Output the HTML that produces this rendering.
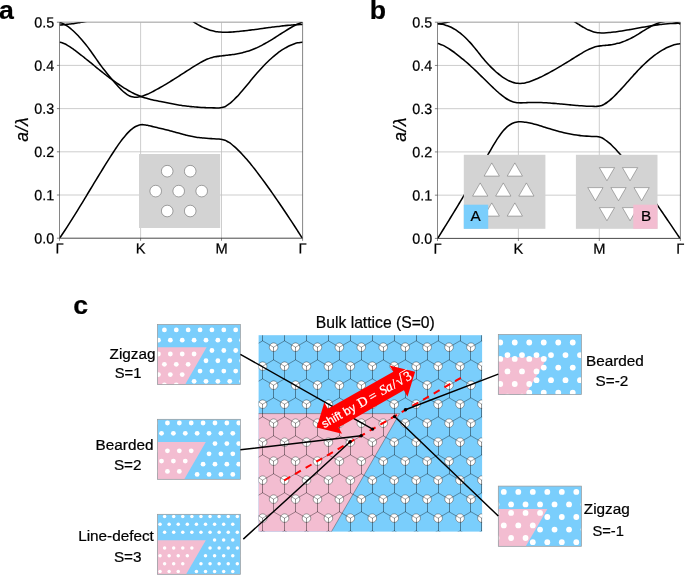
<!DOCTYPE html>
<html lang="en">
<head>
<meta charset="utf-8">
<title>Figure</title>
<style>
html,body{margin:0;padding:0;background:#fff;}
body{width:685px;height:575px;overflow:hidden;}
svg{display:block;}
text{stroke:#000;stroke-width:.22px;}
text.w{stroke:#fff;stroke-width:.25px;}
</style>
</head>
<body>
<svg width="685" height="575" viewBox="0 0 685 575" font-family='"Liberation Sans", sans-serif' font-size="13.33">
<rect width="685" height="575" fill="#fff"/>
<text x="-1" y="19" font-size="26.67" font-weight="bold">a</text>
<text x="369.7" y="19" font-size="26.67" font-weight="bold">b</text>
<clipPath id="clip1"><rect x="59.5" y="22.2" width="243.1" height="216"/></clipPath>
<path d="M59.5 22.2H302.6M59.5 65.4H302.6M59.5 108.6H302.6M59.5 151.8H302.6M59.5 195H302.6M140.6 22.2V238.2M221.5 22.2V238.2" stroke="#c0c0c0" stroke-width="0.8" fill="none"/>
<path d="M59.5 22.2H302.6" stroke="#b0b0b0" stroke-width="1" fill="none"/>
<g clip-path="url(#clip1)" fill="none" stroke="#000" stroke-width="1.55" stroke-linejoin="round">
<path d="M59.4 22.3C59.82 22.44 61.07 22.8 61.91 23.14C62.75 23.47 63.58 23.87 64.42 24.33C65.25 24.78 66.09 25.29 66.93 25.84C67.76 26.39 68.6 27 69.44 27.65C70.27 28.29 71.11 28.99 71.94 29.72C72.78 30.44 73.62 31.22 74.45 32.02C75.29 32.82 76.13 33.66 76.96 34.52C77.8 35.38 78.64 36.27 79.47 37.19C80.31 38.1 81.14 39.04 81.98 40.01C82.82 40.98 83.65 41.97 84.49 43C85.33 44.02 86.16 45.06 87 46.14C87.83 47.22 88.67 48.32 89.51 49.45C90.34 50.58 91.18 51.75 92.02 52.93C92.85 54.11 93.69 55.32 94.53 56.52C95.36 57.72 96.2 58.95 97.03 60.14C97.87 61.33 98.71 62.53 99.54 63.69C100.38 64.85 101.22 65.98 102.05 67.09C102.89 68.2 103.72 69.27 104.56 70.33C105.4 71.39 106.23 72.42 107.07 73.45C107.91 74.47 108.74 75.48 109.58 76.48C110.42 77.48 111.25 78.47 112.09 79.45C112.92 80.44 113.76 81.43 114.6 82.4C115.43 83.37 116.27 84.34 117.11 85.27C117.94 86.21 118.78 87.13 119.61 88C120.45 88.87 121.29 89.72 122.12 90.51C122.96 91.29 123.8 92.04 124.63 92.71C125.47 93.39 126.31 94.01 127.14 94.54C127.98 95.08 128.81 95.55 129.65 95.92C130.49 96.3 131.32 96.58 132.16 96.8C133 97.01 133.83 97.14 134.67 97.2C135.5 97.27 136.34 97.26 137.18 97.2C138.01 97.14 138.85 97.01 139.69 96.85C140.52 96.68 141.36 96.45 142.2 96.2C143.03 95.94 143.87 95.64 144.7 95.31C145.54 94.99 146.38 94.63 147.21 94.25C148.05 93.88 148.89 93.48 149.72 93.07C150.56 92.67 151.39 92.25 152.23 91.82C153.07 91.4 153.9 90.96 154.74 90.52C155.58 90.08 156.41 89.63 157.25 89.17C158.09 88.71 158.92 88.25 159.76 87.77C160.59 87.3 161.43 86.82 162.27 86.34C163.1 85.85 163.94 85.36 164.78 84.87C165.61 84.37 166.45 83.87 167.28 83.36C168.12 82.86 168.96 82.35 169.79 81.83C170.63 81.32 171.47 80.8 172.3 80.27C173.14 79.75 173.98 79.23 174.81 78.7C175.65 78.17 176.48 77.64 177.32 77.1C178.16 76.57 178.99 76.03 179.83 75.5C180.67 74.96 181.5 74.42 182.34 73.88C183.17 73.35 184.01 72.81 184.85 72.27C185.68 71.73 186.52 71.19 187.36 70.65C188.19 70.11 189.03 69.57 189.86 69.03C190.7 68.5 191.54 67.96 192.37 67.43C193.21 66.89 194.05 66.36 194.88 65.84C195.72 65.32 196.56 64.8 197.39 64.3C198.23 63.8 199.06 63.31 199.9 62.83C200.74 62.36 201.57 61.89 202.41 61.45C203.25 61.01 204.08 60.59 204.92 60.2C205.75 59.8 206.59 59.42 207.43 59.08C208.26 58.74 209.1 58.42 209.94 58.13C210.77 57.85 211.61 57.6 212.45 57.38C213.28 57.16 214.12 56.98 214.95 56.81C215.79 56.65 216.63 56.51 217.46 56.39C218.3 56.26 219.14 56.16 219.97 56.05C220.81 55.95 221.64 55.86 222.48 55.76C223.32 55.66 224.15 55.57 224.99 55.47C225.83 55.38 226.66 55.28 227.5 55.18C228.34 55.08 229.17 54.98 230.01 54.87C230.84 54.77 231.68 54.66 232.52 54.54C233.35 54.42 234.19 54.3 235.03 54.16C235.86 54.03 236.7 53.89 237.53 53.74C238.37 53.59 239.21 53.43 240.04 53.25C240.88 53.08 241.72 52.9 242.55 52.7C243.39 52.5 244.23 52.28 245.06 52.05C245.9 51.82 246.73 51.58 247.57 51.31C248.41 51.05 249.24 50.77 250.08 50.47C250.92 50.17 251.75 49.86 252.59 49.53C253.42 49.2 254.26 48.85 255.1 48.49C255.93 48.12 256.77 47.75 257.61 47.36C258.44 46.97 259.28 46.56 260.12 46.14C260.95 45.73 261.79 45.3 262.62 44.86C263.46 44.41 264.3 43.96 265.13 43.5C265.97 43.03 266.81 42.56 267.64 42.07C268.48 41.59 269.31 41.1 270.15 40.6C270.99 40.09 271.82 39.58 272.66 39.07C273.5 38.55 274.33 38.02 275.17 37.49C276.01 36.96 276.84 36.42 277.68 35.89C278.51 35.35 279.35 34.8 280.19 34.26C281.02 33.72 281.86 33.18 282.7 32.64C283.53 32.1 284.37 31.56 285.2 31.04C286.04 30.51 286.88 29.98 287.71 29.47C288.55 28.96 289.39 28.46 290.22 27.97C291.06 27.48 291.9 27 292.73 26.55C293.57 26.09 294.4 25.64 295.24 25.22C296.08 24.79 296.91 24.39 297.75 24.01C298.59 23.62 299.42 23.26 300.26 22.93C301.09 22.6 302.35 22.16 302.77 22.01"/>
<path d="M59.52 42.13C59.94 42.23 61.21 42.46 62.05 42.73C62.9 43 63.74 43.34 64.58 43.73C65.43 44.12 66.27 44.57 67.11 45.06C67.96 45.54 68.8 46.07 69.65 46.63C70.49 47.18 71.33 47.77 72.18 48.37C73.02 48.96 73.86 49.58 74.71 50.2C75.55 50.82 76.39 51.45 77.24 52.09C78.08 52.73 78.93 53.38 79.77 54.03C80.61 54.69 81.46 55.35 82.3 56.01C83.14 56.68 83.99 57.35 84.83 58.03C85.67 58.7 86.52 59.39 87.36 60.07C88.21 60.75 89.05 61.44 89.89 62.13C90.74 62.81 91.58 63.5 92.42 64.19C93.27 64.88 94.11 65.57 94.95 66.26C95.8 66.94 96.64 67.63 97.49 68.31C98.33 69 99.17 69.68 100.02 70.36C100.86 71.03 101.7 71.71 102.55 72.38C103.39 73.05 104.23 73.71 105.08 74.38C105.92 75.04 106.77 75.69 107.61 76.34C108.45 76.99 109.3 77.63 110.14 78.27C110.98 78.9 111.83 79.53 112.67 80.15C113.51 80.77 114.36 81.38 115.2 81.98C116.05 82.59 116.89 83.18 117.73 83.76C118.58 84.35 119.42 84.92 120.26 85.48C121.11 86.04 121.95 86.59 122.79 87.13C123.64 87.67 124.48 88.2 125.33 88.71C126.17 89.23 127.01 89.73 127.86 90.21C128.7 90.7 129.54 91.17 130.39 91.63C131.23 92.09 132.07 92.53 132.92 92.96C133.76 93.38 134.61 93.8 135.45 94.19C136.29 94.58 137.14 94.96 137.98 95.32C138.82 95.68 139.67 96.02 140.51 96.34C141.35 96.67 142.2 96.97 143.04 97.26C143.89 97.54 144.73 97.81 145.57 98.07C146.42 98.33 147.26 98.57 148.1 98.8C148.95 99.03 149.79 99.24 150.63 99.45C151.48 99.66 152.32 99.86 153.17 100.05C154.01 100.24 154.85 100.42 155.7 100.6C156.54 100.77 157.38 100.94 158.23 101.11C159.07 101.28 159.91 101.44 160.76 101.6C161.6 101.77 162.45 101.93 163.29 102.09C164.13 102.25 164.98 102.42 165.82 102.58C166.66 102.75 167.51 102.91 168.35 103.07C169.19 103.24 170.04 103.4 170.88 103.56C171.73 103.72 172.57 103.88 173.41 104.03C174.26 104.19 175.1 104.34 175.94 104.49C176.79 104.64 177.63 104.78 178.47 104.92C179.32 105.06 180.16 105.2 181.01 105.33C181.85 105.45 182.69 105.58 183.54 105.69C184.38 105.81 185.22 105.92 186.07 106.03C186.91 106.14 187.75 106.24 188.6 106.33C189.44 106.43 190.29 106.52 191.13 106.61C191.97 106.69 192.82 106.77 193.66 106.85C194.5 106.93 195.35 107 196.19 107.07C197.03 107.13 197.88 107.2 198.72 107.25C199.57 107.31 200.41 107.37 201.25 107.42C202.1 107.47 202.94 107.51 203.78 107.55C204.63 107.6 205.47 107.63 206.31 107.67C207.16 107.7 208 107.73 208.85 107.76C209.69 107.79 210.53 107.81 211.38 107.83C212.22 107.85 213.06 107.87 213.91 107.88C214.75 107.9 215.59 107.91 216.44 107.91C217.28 107.92 217.7 108.07 218.97 107.93C220.24 107.78 222.77 107.4 224.04 107.03C225.31 106.65 225.73 106.18 226.58 105.67C227.43 105.15 228.27 104.55 229.12 103.91C229.97 103.27 230.81 102.56 231.66 101.82C232.5 101.08 233.35 100.29 234.2 99.48C235.04 98.66 235.89 97.8 236.74 96.91C237.58 96.02 238.43 95.1 239.28 94.16C240.12 93.23 240.97 92.26 241.82 91.28C242.66 90.3 243.51 89.29 244.36 88.28C245.2 87.28 246.05 86.25 246.9 85.22C247.74 84.2 248.59 83.16 249.44 82.14C250.28 81.11 251.13 80.07 251.98 79.06C252.82 78.04 253.67 77.02 254.51 76.02C255.36 75.02 256.21 74.04 257.05 73.07C257.9 72.1 258.75 71.14 259.59 70.2C260.44 69.27 261.29 68.34 262.13 67.44C262.98 66.54 263.83 65.65 264.67 64.78C265.52 63.91 266.37 63.06 267.21 62.23C268.06 61.41 268.91 60.6 269.75 59.81C270.6 59.02 271.45 58.25 272.29 57.5C273.14 56.76 273.99 56.03 274.83 55.33C275.68 54.63 276.52 53.96 277.37 53.3C278.22 52.65 279.06 52.02 279.91 51.42C280.76 50.82 281.6 50.24 282.45 49.69C283.3 49.14 284.14 48.61 284.99 48.11C285.84 47.62 286.68 47.15 287.53 46.71C288.38 46.27 289.22 45.85 290.07 45.47C290.92 45.09 291.76 44.74 292.61 44.42C293.46 44.1 294.3 43.81 295.15 43.55C296 43.29 296.84 43.07 297.69 42.87C298.53 42.68 299.38 42.52 300.23 42.4C301.07 42.28 302.34 42.18 302.77 42.13"/>
<path d="M59.75 238C60.18 237.38 61.44 235.53 62.28 234.27C63.12 233.02 63.97 231.75 64.81 230.47C65.65 229.19 66.49 227.9 67.34 226.59C68.18 225.29 69.02 223.98 69.86 222.66C70.71 221.34 71.55 220 72.39 218.66C73.23 217.33 74.08 215.98 74.92 214.62C75.76 213.27 76.6 211.91 77.44 210.54C78.29 209.18 79.13 207.8 79.97 206.43C80.81 205.05 81.66 203.67 82.5 202.28C83.34 200.9 84.18 199.51 85.03 198.12C85.87 196.73 86.71 195.33 87.55 193.94C88.4 192.55 89.24 191.15 90.08 189.76C90.92 188.36 91.77 186.97 92.61 185.58C93.45 184.18 94.29 182.79 95.14 181.4C95.98 180.01 96.82 178.63 97.66 177.24C98.51 175.86 99.35 174.48 100.19 173.11C101.03 171.74 101.88 170.36 102.72 169C103.56 167.64 104.4 166.28 105.25 164.93C106.09 163.58 106.93 162.24 107.77 160.9C108.61 159.57 109.46 158.24 110.3 156.93C111.14 155.61 111.98 154.3 112.83 153.01C113.67 151.72 114.51 150.43 115.35 149.16C116.2 147.9 117.04 146.64 117.88 145.43C118.72 144.21 119.57 143.01 120.41 141.85C121.25 140.69 122.09 139.56 122.94 138.49C123.78 137.41 124.62 136.36 125.46 135.38C126.31 134.4 127.15 133.46 127.99 132.59C128.83 131.71 129.68 130.89 130.52 130.15C131.36 129.41 132.2 128.72 133.05 128.12C133.89 127.52 134.73 126.98 135.57 126.53C136.41 126.08 137.26 125.7 138.1 125.41C138.94 125.12 139.78 124.91 140.63 124.78C141.47 124.66 142.31 124.63 143.15 124.66C144 124.68 144.84 124.79 145.68 124.92C146.52 125.05 147.37 125.25 148.21 125.43C149.05 125.62 149.89 125.85 150.74 126.06C151.58 126.27 152.42 126.48 153.26 126.69C154.11 126.89 154.95 127.1 155.79 127.3C156.63 127.5 157.48 127.7 158.32 127.9C159.16 128.1 160 128.3 160.85 128.5C161.69 128.7 162.53 128.9 163.37 129.11C164.21 129.31 165.06 129.51 165.9 129.72C166.74 129.93 167.58 130.14 168.43 130.35C169.27 130.57 170.11 130.79 170.95 131.01C171.8 131.23 172.64 131.46 173.48 131.69C174.32 131.92 175.17 132.16 176.01 132.39C176.85 132.63 177.69 132.87 178.54 133.11C179.38 133.34 180.22 133.58 181.06 133.82C181.91 134.05 182.75 134.28 183.59 134.51C184.43 134.73 185.28 134.95 186.12 135.17C186.96 135.38 187.8 135.58 188.65 135.78C189.49 135.97 190.33 136.16 191.17 136.33C192.02 136.5 192.86 136.67 193.7 136.81C194.54 136.96 195.38 137.1 196.23 137.22C197.07 137.35 197.91 137.46 198.75 137.57C199.6 137.67 200.44 137.77 201.28 137.85C202.12 137.94 202.97 138.02 203.81 138.1C204.65 138.17 205.49 138.24 206.34 138.3C207.18 138.36 208.02 138.42 208.86 138.47C209.71 138.53 210.55 138.58 211.39 138.63C212.23 138.68 213.08 138.73 213.92 138.78C214.76 138.82 215.6 138.87 216.45 138.92C217.29 138.97 217.71 138.91 218.97 139.07C220.24 139.23 222.76 139.56 224.02 139.88C225.28 140.19 225.7 140.54 226.55 140.97C227.39 141.4 228.23 141.9 229.07 142.45C229.91 143 230.75 143.61 231.59 144.26C232.43 144.91 233.27 145.62 234.11 146.34C234.96 147.07 235.8 147.84 236.64 148.64C237.48 149.43 238.32 150.25 239.16 151.09C240 151.94 240.84 152.81 241.68 153.7C242.52 154.6 243.36 155.51 244.21 156.45C245.05 157.39 245.89 158.35 246.73 159.33C247.57 160.3 248.41 161.3 249.25 162.32C250.09 163.33 250.93 164.37 251.77 165.41C252.61 166.46 253.46 167.52 254.3 168.6C255.14 169.68 255.98 170.77 256.82 171.87C257.66 172.97 258.5 174.09 259.34 175.21C260.18 176.33 261.02 177.46 261.87 178.6C262.71 179.74 263.55 180.89 264.39 182.05C265.23 183.2 266.07 184.36 266.91 185.53C267.75 186.7 268.59 187.87 269.43 189.05C270.27 190.23 271.12 191.42 271.96 192.61C272.8 193.81 273.64 195.01 274.48 196.21C275.32 197.42 276.16 198.63 277 199.85C277.84 201.07 278.68 202.3 279.52 203.53C280.37 204.76 281.21 205.99 282.05 207.24C282.89 208.48 283.73 209.73 284.57 210.98C285.41 212.23 286.25 213.49 287.09 214.76C287.93 216.02 288.78 217.29 289.62 218.57C290.46 219.85 291.3 221.13 292.14 222.41C292.98 223.7 293.82 224.99 294.66 226.29C295.5 227.59 296.34 228.89 297.18 230.19C298.03 231.5 298.87 232.81 299.71 234.13C300.55 235.44 301.81 237.43 302.23 238.09"/>
<path d="M59.5 25.1C59.92 25.06 61.17 24.96 62 24.89C62.83 24.81 63.67 24.73 64.5 24.64C65.33 24.56 66.17 24.47 67 24.37C67.83 24.28 68.67 24.18 69.5 24.08C70.33 23.97 71.17 23.87 72 23.75C72.83 23.64 73.67 23.53 74.5 23.4C75.33 23.28 76.17 23.16 77 23.03C77.83 22.9 78.67 22.77 79.5 22.63C80.33 22.5 81.17 22.35 82 22.21C82.83 22.07 83.67 21.92 84.5 21.77C85.33 21.61 86.58 21.38 87 21.3"/>
<path d="M192.43 21.1C192.85 21.38 194.11 22.24 194.94 22.79C195.78 23.33 196.61 23.85 197.45 24.35C198.29 24.85 199.12 25.33 199.96 25.79C200.79 26.25 201.63 26.69 202.47 27.1C203.3 27.51 204.14 27.9 204.97 28.27C205.81 28.63 206.64 28.98 207.48 29.29C208.32 29.6 209.15 29.89 209.99 30.16C210.82 30.42 211.66 30.65 212.5 30.86C213.33 31.07 214.17 31.24 215 31.4C215.84 31.56 216.67 31.69 217.51 31.79C218.35 31.9 219.18 31.99 220.02 32.06C220.85 32.13 221.69 32.17 222.53 32.2C223.36 32.24 224.2 32.25 225.03 32.25C225.87 32.25 226.7 32.24 227.54 32.21C228.38 32.19 229.21 32.15 230.05 32.11C230.88 32.07 231.72 32.01 232.56 31.95C233.39 31.89 234.23 31.83 235.06 31.76C235.9 31.69 236.74 31.62 237.57 31.54C238.41 31.46 239.24 31.38 240.08 31.29C240.91 31.21 241.75 31.12 242.59 31.03C243.42 30.94 244.26 30.85 245.09 30.75C245.93 30.65 246.77 30.55 247.6 30.45C248.44 30.35 249.27 30.25 250.11 30.14C250.94 30.03 251.78 29.93 252.62 29.82C253.45 29.71 254.29 29.6 255.12 29.49C255.96 29.37 256.8 29.26 257.63 29.15C258.47 29.03 259.3 28.92 260.14 28.8C260.97 28.69 261.81 28.57 262.65 28.46C263.48 28.34 264.32 28.23 265.15 28.11C265.99 28 266.83 27.88 267.66 27.77C268.5 27.65 269.33 27.54 270.17 27.43C271.01 27.32 271.84 27.21 272.68 27.1C273.51 26.99 274.35 26.88 275.18 26.78C276.02 26.67 276.86 26.57 277.69 26.47C278.53 26.36 279.36 26.26 280.2 26.17C281.04 26.07 281.87 25.98 282.71 25.89C283.54 25.8 284.38 25.71 285.21 25.62C286.05 25.54 286.89 25.46 287.72 25.38C288.56 25.31 289.39 25.23 290.23 25.16C291.07 25.1 291.9 25.03 292.74 24.97C293.57 24.91 294.41 24.86 295.24 24.8C296.08 24.75 296.92 24.71 297.75 24.67C298.59 24.63 299.42 24.59 300.26 24.57C301.1 24.54 302.35 24.51 302.77 24.5"/>
</g>
<path d="M59.5 22.2V238.2M302.6 238.2V22.2M59.5 22.2h-2.6M59.5 65.4h-2.6M59.5 108.6h-2.6M59.5 151.8h-2.6M59.5 195h-2.6M59.5 238.2h-2.6M59.5 238.2v2.6M140.6 238.2v2.6M221.5 238.2v2.6M302.6 238.2v2.6" stroke="#444" stroke-width="0.65" fill="none"/>
<path d="M59.2 238.2H302.9" stroke="#333" stroke-width="0.9" fill="none"/>
<text transform="translate(54.1 27.5) rotate(0.2) scale(1 1.03)" font-size="14.3" text-anchor="end">0.5</text>
<text transform="translate(54.1 70.7) rotate(0.2) scale(1 1.03)" font-size="14.3" text-anchor="end">0.4</text>
<text transform="translate(54.1 113.9) rotate(0.2) scale(1 1.03)" font-size="14.3" text-anchor="end">0.3</text>
<text transform="translate(54.1 157.1) rotate(0.2) scale(1 1.03)" font-size="14.3" text-anchor="end">0.2</text>
<text transform="translate(54.1 200.3) rotate(0.2) scale(1 1.03)" font-size="14.3" text-anchor="end">0.1</text>
<text transform="translate(54.1 243.5) rotate(0.2) scale(1 1.03)" font-size="14.3" text-anchor="end">0.0</text>
<text transform="translate(59.5 253.5) rotate(0.2)" font-size="14.67" text-anchor="middle">Γ</text>
<text transform="translate(140.6 253.5) rotate(0.2)" font-size="14.67" text-anchor="middle">K</text>
<text transform="translate(221.5 253.5) rotate(0.2)" font-size="14.67" text-anchor="middle">M</text>
<text transform="translate(302.6 253.5) rotate(0.2)" font-size="14.67" text-anchor="middle">Γ</text>
<text transform="translate(28.3 129.3) rotate(-90)" font-size="17.5" letter-spacing="0.55" text-anchor="middle" font-style="italic">a/λ</text>
<rect x="139" y="154" width="81.2" height="74" fill="#d3d3d3"/>
<g fill="#fff" stroke="#555" stroke-width="0.5">
<circle cx="178.7" cy="191.1" r="5.8"/>
<circle cx="155.7" cy="191.1" r="5.8"/>
<circle cx="201.7" cy="191.1" r="5.8"/>
<circle cx="167.2" cy="171.18" r="5.8"/>
<circle cx="190.2" cy="171.18" r="5.8"/>
<circle cx="167.2" cy="211.02" r="5.8"/>
<circle cx="190.2" cy="211.02" r="5.8"/>
</g>
<clipPath id="clip2"><rect x="437.5" y="22.2" width="242.9" height="216.2"/></clipPath>
<path d="M437.5 22.2H680.4M437.5 65.44H680.4M437.5 108.68H680.4M437.5 151.92H680.4M437.5 195.16H680.4M518.4 22.2V238.4M599.3 22.2V238.4" stroke="#c0c0c0" stroke-width="0.8" fill="none"/>
<path d="M437.5 22.2H680.4" stroke="#b0b0b0" stroke-width="1" fill="none"/>
<g clip-path="url(#clip2)" fill="none" stroke="#000" stroke-width="1.55" stroke-linejoin="round">
<path d="M437.4 23.8C437.82 23.82 439.07 23.85 439.91 23.93C440.74 24.02 441.58 24.14 442.41 24.3C443.25 24.46 444.08 24.65 444.92 24.88C445.75 25.12 446.59 25.39 447.42 25.69C448.26 26 449.09 26.34 449.93 26.72C450.77 27.1 451.6 27.51 452.44 27.96C453.27 28.41 454.11 28.9 454.94 29.42C455.78 29.94 456.61 30.49 457.45 31.08C458.28 31.67 459.12 32.29 459.95 32.94C460.79 33.6 461.62 34.29 462.46 35.01C463.3 35.73 464.13 36.49 464.97 37.28C465.8 38.06 466.64 38.88 467.47 39.73C468.31 40.58 469.14 41.47 469.98 42.38C470.81 43.3 471.65 44.24 472.48 45.22C473.32 46.19 474.15 47.21 474.99 48.24C475.83 49.26 476.66 50.33 477.5 51.39C478.33 52.44 479.17 53.52 480 54.57C480.84 55.62 481.67 56.67 482.51 57.68C483.34 58.69 484.18 59.68 485.01 60.65C485.85 61.61 486.68 62.55 487.52 63.47C488.36 64.38 489.19 65.27 490.03 66.13C490.86 67 491.7 67.84 492.53 68.65C493.37 69.46 494.2 70.25 495.04 71.01C495.87 71.76 496.71 72.5 497.54 73.2C498.38 73.9 499.21 74.58 500.05 75.22C500.88 75.86 501.72 76.47 502.56 77.05C503.39 77.63 504.23 78.18 505.06 78.69C505.9 79.2 506.73 79.67 507.57 80.11C508.4 80.55 509.24 80.95 510.07 81.3C510.91 81.66 511.74 81.98 512.58 82.25C513.41 82.53 514.25 82.76 515.09 82.94C515.92 83.12 516.76 83.26 517.59 83.35C518.43 83.44 519.26 83.47 520.1 83.46C520.93 83.46 521.77 83.4 522.6 83.31C523.44 83.21 524.27 83.07 525.11 82.91C525.94 82.74 526.78 82.53 527.62 82.3C528.45 82.07 529.29 81.8 530.12 81.52C530.96 81.23 531.79 80.92 532.63 80.59C533.46 80.27 534.3 79.92 535.13 79.56C535.97 79.21 536.8 78.84 537.64 78.46C538.47 78.08 539.31 77.69 540.15 77.29C540.98 76.9 541.82 76.49 542.65 76.08C543.49 75.66 544.32 75.24 545.16 74.81C545.99 74.38 546.83 73.94 547.66 73.5C548.5 73.05 549.33 72.6 550.17 72.15C551 71.69 551.84 71.22 552.68 70.75C553.51 70.29 554.35 69.81 555.18 69.33C556.02 68.85 556.85 68.36 557.69 67.88C558.52 67.39 559.36 66.89 560.19 66.4C561.03 65.9 561.86 65.4 562.7 64.89C563.53 64.39 564.37 63.88 565.21 63.37C566.04 62.87 566.88 62.35 567.71 61.84C568.55 61.33 569.38 60.81 570.22 60.3C571.05 59.78 571.89 59.27 572.72 58.75C573.56 58.23 574.39 57.71 575.23 57.2C576.06 56.68 576.9 56.16 577.74 55.65C578.57 55.13 579.41 54.62 580.24 54.11C581.08 53.6 581.91 53.1 582.75 52.61C583.58 52.13 584.42 51.64 585.25 51.19C586.09 50.73 586.92 50.28 587.76 49.87C588.59 49.45 589.43 49.05 590.27 48.68C591.1 48.31 591.94 47.97 592.77 47.67C593.61 47.36 594.44 47.09 595.28 46.85C596.11 46.62 596.95 46.43 597.78 46.26C598.62 46.1 599.45 45.98 600.29 45.86C601.12 45.75 601.96 45.67 602.79 45.58C603.63 45.5 604.47 45.44 605.3 45.37C606.14 45.29 606.97 45.23 607.81 45.15C608.64 45.06 609.48 44.97 610.31 44.86C611.15 44.74 611.98 44.61 612.82 44.47C613.65 44.32 614.49 44.15 615.32 43.97C616.16 43.79 617 43.58 617.83 43.36C618.67 43.14 619.5 42.9 620.34 42.64C621.17 42.38 622.01 42.11 622.84 41.81C623.68 41.51 624.51 41.19 625.35 40.86C626.18 40.52 627.02 40.16 627.85 39.79C628.69 39.41 629.53 39.01 630.36 38.59C631.2 38.17 632.03 37.73 632.87 37.28C633.7 36.82 634.54 36.34 635.37 35.85C636.21 35.36 637.04 34.85 637.88 34.34C638.71 33.82 639.55 33.3 640.38 32.78C641.22 32.25 642.06 31.72 642.89 31.2C643.73 30.68 644.56 30.15 645.4 29.64C646.23 29.13 647.07 28.62 647.9 28.13C648.74 27.64 649.57 27.15 650.41 26.7C651.24 26.24 652.08 25.79 652.91 25.38C653.75 24.96 654.59 24.56 655.42 24.2C656.26 23.83 657.09 23.49 657.93 23.17C658.76 22.86 659.6 22.58 660.43 22.33C661.27 22.08 662.1 21.86 662.94 21.68C663.77 21.5 664.61 21.35 665.44 21.24C666.28 21.13 667.12 21.06 667.95 21.03C668.79 21 669.62 21.01 670.46 21.07C671.29 21.12 672.13 21.22 672.96 21.37C673.8 21.52 674.63 21.71 675.47 21.95C676.3 22.2 677.14 22.49 677.97 22.84C678.81 23.19 680.06 23.84 680.48 24.04"/>
<path d="M437.46 43.49C437.88 43.6 439.15 43.88 439.99 44.16C440.83 44.43 441.68 44.76 442.52 45.14C443.36 45.51 444.2 45.93 445.05 46.38C445.89 46.83 446.73 47.33 447.58 47.85C448.42 48.37 449.26 48.92 450.1 49.49C450.95 50.05 451.79 50.65 452.63 51.25C453.48 51.85 454.32 52.47 455.16 53.1C456.01 53.73 456.85 54.37 457.69 55.03C458.53 55.68 459.38 56.35 460.22 57.03C461.06 57.71 461.91 58.4 462.75 59.1C463.59 59.8 464.43 60.52 465.28 61.24C466.12 61.96 466.96 62.7 467.81 63.44C468.65 64.19 469.49 64.95 470.33 65.71C471.18 66.48 472.02 67.25 472.86 68.04C473.71 68.82 474.55 69.62 475.39 70.42C476.23 71.23 477.08 72.04 477.92 72.86C478.76 73.67 479.61 74.5 480.45 75.33C481.29 76.16 482.14 76.99 482.98 77.82C483.82 78.65 484.66 79.48 485.51 80.31C486.35 81.14 487.19 81.97 488.04 82.8C488.88 83.62 489.72 84.44 490.56 85.25C491.41 86.06 492.25 86.86 493.09 87.65C493.94 88.44 494.78 89.23 495.62 89.99C496.46 90.76 497.31 91.52 498.15 92.25C498.99 92.99 499.84 93.72 500.68 94.41C501.52 95.11 502.37 95.78 503.21 96.42C504.05 97.06 504.89 97.67 505.74 98.23C506.58 98.79 507.42 99.32 508.27 99.79C509.11 100.26 509.95 100.69 510.79 101.05C511.64 101.41 512.48 101.72 513.32 101.96C514.17 102.21 515.01 102.38 515.85 102.52C516.69 102.66 517.54 102.74 518.38 102.8C519.22 102.86 520.07 102.86 520.91 102.86C521.75 102.86 522.6 102.83 523.44 102.79C524.28 102.76 525.12 102.7 525.97 102.66C526.81 102.62 527.65 102.57 528.5 102.54C529.34 102.5 530.18 102.48 531.02 102.46C531.87 102.44 532.71 102.43 533.55 102.43C534.4 102.42 535.24 102.42 536.08 102.43C536.92 102.44 537.77 102.46 538.61 102.48C539.45 102.5 540.3 102.53 541.14 102.56C541.98 102.59 542.82 102.63 543.67 102.67C544.51 102.71 545.35 102.76 546.2 102.81C547.04 102.86 547.88 102.91 548.73 102.97C549.57 103.03 550.41 103.09 551.25 103.15C552.1 103.22 552.94 103.29 553.78 103.36C554.63 103.43 555.47 103.5 556.31 103.57C557.15 103.65 558 103.73 558.84 103.8C559.68 103.88 560.53 103.96 561.37 104.04C562.21 104.12 563.05 104.2 563.9 104.28C564.74 104.37 565.58 104.45 566.43 104.53C567.27 104.61 568.11 104.69 568.96 104.77C569.8 104.85 570.64 104.93 571.48 105.01C572.33 105.09 573.17 105.17 574.01 105.24C574.86 105.31 575.7 105.39 576.54 105.46C577.38 105.53 578.23 105.6 579.07 105.66C579.91 105.73 580.76 105.79 581.6 105.85C582.44 105.9 583.28 105.96 584.13 106.01C584.97 106.06 585.81 106.1 586.66 106.15C587.5 106.19 588.34 106.22 589.19 106.26C590.03 106.29 590.87 106.31 591.71 106.33C592.56 106.35 593.4 106.37 594.24 106.37C595.09 106.38 595.51 106.53 596.77 106.38C598.04 106.22 600.57 105.81 601.84 105.44C603.1 105.07 603.53 104.63 604.37 104.14C605.22 103.65 606.07 103.1 606.91 102.5C607.76 101.9 608.6 101.24 609.45 100.55C610.29 99.86 611.14 99.12 611.98 98.35C612.83 97.59 613.68 96.78 614.52 95.95C615.37 95.12 616.21 94.26 617.06 93.39C617.9 92.51 618.75 91.62 619.6 90.71C620.44 89.81 621.29 88.89 622.13 87.97C622.98 87.04 623.82 86.1 624.67 85.16C625.51 84.22 626.36 83.28 627.21 82.33C628.05 81.38 628.9 80.43 629.74 79.49C630.59 78.54 631.43 77.59 632.28 76.66C633.13 75.72 633.97 74.78 634.82 73.86C635.66 72.94 636.51 72.02 637.35 71.12C638.2 70.22 639.04 69.33 639.89 68.46C640.74 67.58 641.58 66.73 642.43 65.89C643.27 65.06 644.12 64.24 644.96 63.44C645.81 62.64 646.66 61.86 647.5 61.1C648.35 60.35 649.19 59.61 650.04 58.89C650.88 58.18 651.73 57.48 652.57 56.81C653.42 56.13 654.27 55.48 655.11 54.85C655.96 54.22 656.8 53.62 657.65 53.04C658.49 52.45 659.34 51.9 660.19 51.36C661.03 50.83 661.88 50.32 662.72 49.84C663.57 49.35 664.41 48.89 665.26 48.46C666.1 48.03 666.95 47.63 667.8 47.25C668.64 46.87 669.49 46.52 670.33 46.19C671.18 45.87 672.02 45.58 672.87 45.31C673.72 45.04 674.56 44.81 675.41 44.6C676.25 44.39 677.1 44.21 677.94 44.06C678.79 43.92 680.06 43.77 680.48 43.71"/>
<path d="M437.53 238.58C437.95 237.91 439.22 235.9 440.06 234.56C440.9 233.21 441.74 231.86 442.59 230.51C443.43 229.16 444.27 227.8 445.11 226.45C445.96 225.09 446.8 223.72 447.64 222.36C448.48 220.99 449.33 219.62 450.17 218.25C451.01 216.88 451.85 215.5 452.7 214.12C453.54 212.75 454.38 211.36 455.22 209.98C456.07 208.59 456.91 207.2 457.75 205.81C458.59 204.42 459.44 203.02 460.28 201.62C461.12 200.23 461.96 198.82 462.81 197.42C463.65 196.01 464.49 194.61 465.34 193.2C466.18 191.79 467.02 190.37 467.86 188.95C468.71 187.54 469.55 186.12 470.39 184.7C471.23 183.27 472.08 181.85 472.92 180.42C473.76 178.99 474.6 177.56 475.45 176.12C476.29 174.69 477.13 173.25 477.97 171.81C478.82 170.37 479.66 168.93 480.5 167.49C481.34 166.04 482.19 164.59 483.03 163.14C483.87 161.69 484.71 160.24 485.56 158.78C486.4 157.33 487.24 155.87 488.08 154.41C488.93 152.95 489.77 151.48 490.61 150.03C491.45 148.58 492.3 147.13 493.14 145.72C493.98 144.31 494.82 142.91 495.67 141.56C496.51 140.21 497.35 138.89 498.19 137.63C499.04 136.37 499.88 135.16 500.72 134.02C501.56 132.89 502.41 131.8 503.25 130.82C504.09 129.83 504.93 128.92 505.78 128.1C506.62 127.28 507.46 126.56 508.3 125.92C509.15 125.27 509.99 124.72 510.83 124.24C511.68 123.75 512.52 123.35 513.36 123.02C514.2 122.69 515.05 122.43 515.89 122.23C516.73 122.03 517.57 121.9 518.42 121.82C519.26 121.74 520.1 121.72 520.94 121.74C521.79 121.75 522.63 121.82 523.47 121.9C524.31 121.99 525.16 122.11 526 122.24C526.84 122.37 527.68 122.52 528.53 122.69C529.37 122.86 530.21 123.04 531.05 123.24C531.9 123.44 532.74 123.65 533.58 123.88C534.42 124.1 535.27 124.34 536.11 124.58C536.95 124.82 537.79 125.07 538.64 125.32C539.48 125.58 540.32 125.84 541.16 126.1C542.01 126.36 542.85 126.63 543.69 126.89C544.53 127.15 545.38 127.42 546.22 127.68C547.06 127.94 547.9 128.2 548.75 128.46C549.59 128.72 550.43 128.98 551.27 129.24C552.12 129.49 552.96 129.74 553.8 129.99C554.65 130.23 555.49 130.48 556.33 130.71C557.17 130.95 558.02 131.18 558.86 131.4C559.7 131.63 560.54 131.84 561.39 132.05C562.23 132.26 563.07 132.46 563.91 132.66C564.76 132.85 565.6 133.04 566.44 133.22C567.28 133.4 568.13 133.57 568.97 133.73C569.81 133.9 570.65 134.06 571.5 134.21C572.34 134.36 573.18 134.5 574.02 134.64C574.87 134.77 575.71 134.9 576.55 135.02C577.39 135.14 578.24 135.26 579.08 135.36C579.92 135.47 580.76 135.57 581.61 135.66C582.45 135.76 583.29 135.84 584.13 135.92C584.98 136 585.82 136.07 586.66 136.13C587.5 136.2 588.35 136.25 589.19 136.3C590.03 136.35 590.87 136.4 591.72 136.43C592.56 136.47 593.4 136.49 594.24 136.52C595.09 136.54 595.51 136.35 596.77 136.56C598.04 136.77 600.56 137.31 601.83 137.77C603.09 138.22 603.51 138.73 604.35 139.29C605.19 139.84 606.04 140.44 606.88 141.09C607.72 141.73 608.56 142.42 609.4 143.15C610.25 143.88 611.09 144.65 611.93 145.45C612.77 146.25 613.61 147.09 614.46 147.96C615.3 148.83 616.14 149.73 616.98 150.66C617.82 151.59 618.67 152.55 619.51 153.53C620.35 154.51 621.19 155.52 622.03 156.55C622.88 157.57 623.72 158.62 624.56 159.68C625.4 160.74 626.25 161.83 627.09 162.92C627.93 164.01 628.77 165.11 629.61 166.22C630.46 167.34 631.3 168.46 632.14 169.58C632.98 170.71 633.82 171.85 634.67 172.99C635.51 174.13 636.35 175.28 637.19 176.43C638.03 177.59 638.88 178.75 639.72 179.92C640.56 181.08 641.4 182.26 642.24 183.43C643.09 184.61 643.93 185.8 644.77 186.98C645.61 188.17 646.45 189.37 647.3 190.56C648.14 191.76 648.98 192.97 649.82 194.17C650.66 195.38 651.51 196.59 652.35 197.8C653.19 199.02 654.03 200.24 654.87 201.46C655.72 202.68 656.56 203.9 657.4 205.13C658.24 206.36 659.08 207.59 659.93 208.82C660.77 210.05 661.61 211.28 662.45 212.52C663.29 213.76 664.14 214.99 664.98 216.23C665.82 217.47 666.66 218.71 667.5 219.95C668.35 221.19 669.19 222.44 670.03 223.68C670.87 224.92 671.71 226.16 672.56 227.41C673.4 228.65 674.24 229.89 675.08 231.13C675.92 232.38 676.77 233.62 677.61 234.86C678.45 236.1 679.71 237.96 680.14 238.58"/>
<path d="M437.4 23.8C437.82 23.76 439.08 23.64 439.92 23.54C440.76 23.43 441.6 23.31 442.44 23.18C443.28 23.04 444.12 22.89 444.96 22.73C445.8 22.56 446.64 22.39 447.48 22.2C448.32 22.01 449.58 21.7 450 21.6"/>
<path d="M570.83 19.52C571.25 19.77 572.53 20.49 573.38 21C574.23 21.51 575.08 22.05 575.93 22.59C576.78 23.12 577.63 23.68 578.48 24.22C579.33 24.76 580.18 25.31 581.03 25.84C581.88 26.36 582.73 26.89 583.58 27.39C584.43 27.88 585.28 28.36 586.13 28.81C586.98 29.25 587.83 29.67 588.68 30.05C589.53 30.43 590.38 30.79 591.23 31.09C592.08 31.4 592.93 31.66 593.78 31.89C594.63 32.11 595.48 32.29 596.33 32.44C597.18 32.59 598.03 32.7 598.88 32.78C599.73 32.86 600.58 32.91 601.43 32.94C602.28 32.96 603.13 32.96 603.98 32.94C604.83 32.92 605.68 32.87 606.53 32.82C607.38 32.76 608.23 32.69 609.08 32.6C609.93 32.52 610.78 32.43 611.63 32.33C612.48 32.23 613.33 32.12 614.18 32.01C615.03 31.91 615.88 31.79 616.73 31.67C617.58 31.55 618.43 31.43 619.28 31.3C620.13 31.17 620.98 31.04 621.83 30.91C622.68 30.77 623.53 30.63 624.38 30.49C625.23 30.35 626.08 30.21 626.93 30.06C627.78 29.92 628.63 29.77 629.48 29.62C630.33 29.47 631.18 29.32 632.03 29.17C632.88 29.02 633.73 28.86 634.58 28.71C635.43 28.56 636.28 28.4 637.13 28.25C637.98 28.1 638.83 27.94 639.68 27.79C640.53 27.64 641.38 27.49 642.23 27.33C643.08 27.18 643.93 27.03 644.78 26.89C645.63 26.74 646.48 26.59 647.33 26.45C648.18 26.31 649.03 26.17 649.88 26.03C650.73 25.89 651.58 25.76 652.43 25.62C653.28 25.49 654.13 25.37 654.98 25.24C655.83 25.12 656.68 25 657.53 24.89C658.38 24.77 659.23 24.66 660.08 24.56C660.93 24.45 661.78 24.35 662.63 24.26C663.48 24.17 664.33 24.08 665.18 24C666.03 23.92 666.88 23.84 667.73 23.78C668.58 23.71 669.43 23.65 670.28 23.6C671.13 23.54 671.98 23.5 672.83 23.46C673.68 23.42 674.53 23.39 675.38 23.38C676.23 23.36 677.08 23.34 677.93 23.34C678.78 23.34 680.06 23.36 680.48 23.37"/>
</g>
<path d="M437.5 22.2V238.4M680.4 238.4V22.2M437.5 22.2h-2.6M437.5 65.44h-2.6M437.5 108.68h-2.6M437.5 151.92h-2.6M437.5 195.16h-2.6M437.5 238.4h-2.6M437.5 238.4v2.6M518.4 238.4v2.6M599.3 238.4v2.6M680.4 238.4v2.6" stroke="#444" stroke-width="0.65" fill="none"/>
<path d="M437.2 238.4H680.7" stroke="#333" stroke-width="0.9" fill="none"/>
<text transform="translate(432.1 27.5) rotate(0.2) scale(1 1.03)" font-size="14.3" text-anchor="end">0.5</text>
<text transform="translate(432.1 70.74) rotate(0.2) scale(1 1.03)" font-size="14.3" text-anchor="end">0.4</text>
<text transform="translate(432.1 113.98) rotate(0.2) scale(1 1.03)" font-size="14.3" text-anchor="end">0.3</text>
<text transform="translate(432.1 157.22) rotate(0.2) scale(1 1.03)" font-size="14.3" text-anchor="end">0.2</text>
<text transform="translate(432.1 200.46) rotate(0.2) scale(1 1.03)" font-size="14.3" text-anchor="end">0.1</text>
<text transform="translate(432.1 243.7) rotate(0.2) scale(1 1.03)" font-size="14.3" text-anchor="end">0.0</text>
<text transform="translate(437.5 253.7) rotate(0.2)" font-size="14.67" text-anchor="middle">Γ</text>
<text transform="translate(518.4 253.7) rotate(0.2)" font-size="14.67" text-anchor="middle">K</text>
<text transform="translate(599.3 253.7) rotate(0.2)" font-size="14.67" text-anchor="middle">M</text>
<text transform="translate(680.4 253.7) rotate(0.2)" font-size="14.67" text-anchor="middle">Γ</text>
<text transform="translate(406.3 129.4) rotate(-90)" font-size="17.5" letter-spacing="0.55" text-anchor="middle" font-style="italic">a/λ</text>
<rect x="463.8" y="154.8" width="81.6" height="74" fill="#d3d3d3"/>
<path d="M503.3 182.92L510.9 196.09L495.7 196.09ZM480.2 182.92L487.8 196.09L472.6 196.09ZM526.4 182.92L534 196.09L518.8 196.09ZM491.75 162.92L499.35 176.09L484.15 176.09ZM514.85 162.92L522.45 176.09L507.25 176.09ZM491.75 202.92L499.35 216.09L484.15 216.09ZM514.85 202.92L522.45 216.09L507.25 216.09Z" fill="#fff" stroke="#666" stroke-width="0.5"/>
<rect x="463.8" y="204.7" width="24.4" height="24.1" fill="#7acefc"/>
<text x="475.5" y="221.4" font-size="15.3" text-anchor="middle">A</text>
<rect x="575.9" y="154.8" width="81.6" height="74" fill="#d3d3d3"/>
<path d="M618.5 200.78L626.1 187.61L610.9 187.61ZM595.4 200.78L603 187.61L587.8 187.61ZM641.6 200.78L649.2 187.61L634 187.61ZM606.95 180.78L614.55 167.61L599.35 167.61ZM630.05 180.78L637.65 167.61L622.45 167.61ZM606.95 220.78L614.55 207.61L599.35 207.61ZM630.05 220.78L637.65 207.61L622.45 207.61Z" fill="#fff" stroke="#666" stroke-width="0.5"/>
<rect x="633.3" y="204.7" width="24.2" height="24.1" fill="#f3bdd1"/>
<text x="646" y="221.1" font-size="15.3" text-anchor="middle">B</text>
<text x="73.2" y="314.2" font-size="26.67" font-weight="bold">c</text>
<text x="375.3" y="328" font-size="15.7" text-anchor="middle">Bulk lattice (S=0)</text>
<clipPath id="mc"><rect x="258.6" y="335.2" width="223.5" height="196.4"/></clipPath>
<rect x="258.6" y="335.2" width="223.5" height="196.4" fill="#7acefc"/>
<path d="M255.6 413.6H399.6L329.74 534.6H255.6Z" fill="#f3bdd1" clip-path="url(#mc)"/>
<path d="M258.6 413.6H399.6L331.47 531.6" fill="none" stroke="#444" stroke-width="0.45"/>
<g clip-path="url(#mc)">
<g fill="#fff" stroke="#222" stroke-width="0.42">
<circle cx="240.71" cy="328.21" r="4.3"/>
<circle cx="262.64" cy="328.21" r="4.3"/>
<circle cx="284.57" cy="328.21" r="4.3"/>
<circle cx="306.5" cy="328.21" r="4.3"/>
<circle cx="328.43" cy="328.21" r="4.3"/>
<circle cx="350.36" cy="328.21" r="4.3"/>
<circle cx="372.29" cy="328.21" r="4.3"/>
<circle cx="394.22" cy="328.21" r="4.3"/>
<circle cx="416.15" cy="328.21" r="4.3"/>
<circle cx="438.08" cy="328.21" r="4.3"/>
<circle cx="460.01" cy="328.21" r="4.3"/>
<circle cx="481.94" cy="328.21" r="4.3"/>
<circle cx="503.87" cy="328.21" r="4.3"/>
<circle cx="251.67" cy="347.2" r="4.3"/>
<circle cx="273.6" cy="347.2" r="4.3"/>
<circle cx="295.53" cy="347.2" r="4.3"/>
<circle cx="317.46" cy="347.2" r="4.3"/>
<circle cx="339.39" cy="347.2" r="4.3"/>
<circle cx="361.32" cy="347.2" r="4.3"/>
<circle cx="383.25" cy="347.2" r="4.3"/>
<circle cx="405.18" cy="347.2" r="4.3"/>
<circle cx="427.11" cy="347.2" r="4.3"/>
<circle cx="449.04" cy="347.2" r="4.3"/>
<circle cx="470.97" cy="347.2" r="4.3"/>
<circle cx="492.9" cy="347.2" r="4.3"/>
<circle cx="240.71" cy="366.19" r="4.3"/>
<circle cx="262.64" cy="366.19" r="4.3"/>
<circle cx="284.57" cy="366.19" r="4.3"/>
<circle cx="306.5" cy="366.19" r="4.3"/>
<circle cx="328.43" cy="366.19" r="4.3"/>
<circle cx="350.36" cy="366.19" r="4.3"/>
<circle cx="372.29" cy="366.19" r="4.3"/>
<circle cx="394.22" cy="366.19" r="4.3"/>
<circle cx="416.15" cy="366.19" r="4.3"/>
<circle cx="438.08" cy="366.19" r="4.3"/>
<circle cx="460.01" cy="366.19" r="4.3"/>
<circle cx="481.94" cy="366.19" r="4.3"/>
<circle cx="503.87" cy="366.19" r="4.3"/>
<circle cx="251.67" cy="385.18" r="4.3"/>
<circle cx="273.6" cy="385.18" r="4.3"/>
<circle cx="295.53" cy="385.18" r="4.3"/>
<circle cx="317.46" cy="385.18" r="4.3"/>
<circle cx="339.39" cy="385.18" r="4.3"/>
<circle cx="361.32" cy="385.18" r="4.3"/>
<circle cx="383.25" cy="385.18" r="4.3"/>
<circle cx="405.18" cy="385.18" r="4.3"/>
<circle cx="427.11" cy="385.18" r="4.3"/>
<circle cx="449.04" cy="385.18" r="4.3"/>
<circle cx="470.97" cy="385.18" r="4.3"/>
<circle cx="492.9" cy="385.18" r="4.3"/>
<circle cx="240.71" cy="404.18" r="4.3"/>
<circle cx="262.64" cy="404.18" r="4.3"/>
<circle cx="284.57" cy="404.18" r="4.3"/>
<circle cx="306.5" cy="404.18" r="4.3"/>
<circle cx="328.43" cy="404.18" r="4.3"/>
<circle cx="350.36" cy="404.18" r="4.3"/>
<circle cx="372.29" cy="404.18" r="4.3"/>
<circle cx="394.22" cy="404.18" r="4.3"/>
<circle cx="416.15" cy="404.18" r="4.3"/>
<circle cx="438.08" cy="404.18" r="4.3"/>
<circle cx="460.01" cy="404.18" r="4.3"/>
<circle cx="481.94" cy="404.18" r="4.3"/>
<circle cx="503.87" cy="404.18" r="4.3"/>
<circle cx="251.67" cy="423.17" r="4.3"/>
<circle cx="273.6" cy="423.17" r="4.3"/>
<circle cx="295.53" cy="423.17" r="4.3"/>
<circle cx="317.46" cy="423.17" r="4.3"/>
<circle cx="339.39" cy="423.17" r="4.3"/>
<circle cx="361.32" cy="423.17" r="4.3"/>
<circle cx="383.25" cy="423.17" r="4.3"/>
<circle cx="405.18" cy="423.17" r="4.3"/>
<circle cx="427.11" cy="423.17" r="4.3"/>
<circle cx="449.04" cy="423.17" r="4.3"/>
<circle cx="470.97" cy="423.17" r="4.3"/>
<circle cx="492.9" cy="423.17" r="4.3"/>
<circle cx="240.71" cy="442.16" r="4.3"/>
<circle cx="262.64" cy="442.16" r="4.3"/>
<circle cx="284.57" cy="442.16" r="4.3"/>
<circle cx="306.5" cy="442.16" r="4.3"/>
<circle cx="328.43" cy="442.16" r="4.3"/>
<circle cx="350.36" cy="442.16" r="4.3"/>
<circle cx="372.29" cy="442.16" r="4.3"/>
<circle cx="394.22" cy="442.16" r="4.3"/>
<circle cx="416.15" cy="442.16" r="4.3"/>
<circle cx="438.08" cy="442.16" r="4.3"/>
<circle cx="460.01" cy="442.16" r="4.3"/>
<circle cx="481.94" cy="442.16" r="4.3"/>
<circle cx="503.87" cy="442.16" r="4.3"/>
<circle cx="251.67" cy="461.15" r="4.3"/>
<circle cx="273.6" cy="461.15" r="4.3"/>
<circle cx="295.53" cy="461.15" r="4.3"/>
<circle cx="317.46" cy="461.15" r="4.3"/>
<circle cx="339.39" cy="461.15" r="4.3"/>
<circle cx="361.32" cy="461.15" r="4.3"/>
<circle cx="383.25" cy="461.15" r="4.3"/>
<circle cx="405.18" cy="461.15" r="4.3"/>
<circle cx="427.11" cy="461.15" r="4.3"/>
<circle cx="449.04" cy="461.15" r="4.3"/>
<circle cx="470.97" cy="461.15" r="4.3"/>
<circle cx="492.9" cy="461.15" r="4.3"/>
<circle cx="240.71" cy="480.14" r="4.3"/>
<circle cx="262.64" cy="480.14" r="4.3"/>
<circle cx="284.57" cy="480.14" r="4.3"/>
<circle cx="306.5" cy="480.14" r="4.3"/>
<circle cx="328.43" cy="480.14" r="4.3"/>
<circle cx="350.36" cy="480.14" r="4.3"/>
<circle cx="372.29" cy="480.14" r="4.3"/>
<circle cx="394.22" cy="480.14" r="4.3"/>
<circle cx="416.15" cy="480.14" r="4.3"/>
<circle cx="438.08" cy="480.14" r="4.3"/>
<circle cx="460.01" cy="480.14" r="4.3"/>
<circle cx="481.94" cy="480.14" r="4.3"/>
<circle cx="503.87" cy="480.14" r="4.3"/>
<circle cx="251.67" cy="499.14" r="4.3"/>
<circle cx="273.6" cy="499.14" r="4.3"/>
<circle cx="295.53" cy="499.14" r="4.3"/>
<circle cx="317.46" cy="499.14" r="4.3"/>
<circle cx="339.39" cy="499.14" r="4.3"/>
<circle cx="361.32" cy="499.14" r="4.3"/>
<circle cx="383.25" cy="499.14" r="4.3"/>
<circle cx="405.18" cy="499.14" r="4.3"/>
<circle cx="427.11" cy="499.14" r="4.3"/>
<circle cx="449.04" cy="499.14" r="4.3"/>
<circle cx="470.97" cy="499.14" r="4.3"/>
<circle cx="492.9" cy="499.14" r="4.3"/>
<circle cx="240.71" cy="518.13" r="4.3"/>
<circle cx="262.64" cy="518.13" r="4.3"/>
<circle cx="284.57" cy="518.13" r="4.3"/>
<circle cx="306.5" cy="518.13" r="4.3"/>
<circle cx="328.43" cy="518.13" r="4.3"/>
<circle cx="350.36" cy="518.13" r="4.3"/>
<circle cx="372.29" cy="518.13" r="4.3"/>
<circle cx="394.22" cy="518.13" r="4.3"/>
<circle cx="416.15" cy="518.13" r="4.3"/>
<circle cx="438.08" cy="518.13" r="4.3"/>
<circle cx="460.01" cy="518.13" r="4.3"/>
<circle cx="481.94" cy="518.13" r="4.3"/>
<circle cx="503.87" cy="518.13" r="4.3"/>
<circle cx="251.67" cy="537.12" r="4.3"/>
<circle cx="273.6" cy="537.12" r="4.3"/>
<circle cx="295.53" cy="537.12" r="4.3"/>
<circle cx="317.46" cy="537.12" r="4.3"/>
<circle cx="339.39" cy="537.12" r="4.3"/>
<circle cx="361.32" cy="537.12" r="4.3"/>
<circle cx="383.25" cy="537.12" r="4.3"/>
<circle cx="405.18" cy="537.12" r="4.3"/>
<circle cx="427.11" cy="537.12" r="4.3"/>
<circle cx="449.04" cy="537.12" r="4.3"/>
<circle cx="470.97" cy="537.12" r="4.3"/>
<circle cx="492.9" cy="537.12" r="4.3"/>
</g>
<path d="M240.71 328.21l-10.96 -6.33M240.71 328.21l10.96 -6.33M262.64 328.21l-10.96 -6.33M262.64 328.21l10.96 -6.33M284.57 328.21l-10.96 -6.33M284.57 328.21l10.96 -6.33M306.5 328.21l-10.96 -6.33M306.5 328.21l10.96 -6.33M328.43 328.21l-10.96 -6.33M328.43 328.21l10.96 -6.33M350.36 328.21l-10.96 -6.33M350.36 328.21l10.96 -6.33M372.29 328.21l-10.96 -6.33M372.29 328.21l10.96 -6.33M394.22 328.21l-10.96 -6.33M394.22 328.21l10.96 -6.33M416.15 328.21l-10.96 -6.33M416.15 328.21l10.96 -6.33M438.08 328.21l-10.96 -6.33M438.08 328.21l10.96 -6.33M460.01 328.21l-10.96 -6.33M460.01 328.21l10.96 -6.33M481.94 328.21l-10.96 -6.33M481.94 328.21l10.96 -6.33M503.87 328.21l-10.96 -6.33M503.87 328.21l10.96 -6.33M251.67 347.2l-10.96 -6.33M251.67 347.2l10.96 -6.33M273.6 347.2l-10.96 -6.33M273.6 347.2l10.96 -6.33M295.53 347.2l-10.96 -6.33M295.53 347.2l10.96 -6.33M317.46 347.2l-10.96 -6.33M317.46 347.2l10.96 -6.33M339.39 347.2l-10.96 -6.33M339.39 347.2l10.96 -6.33M361.32 347.2l-10.96 -6.33M361.32 347.2l10.96 -6.33M383.25 347.2l-10.96 -6.33M383.25 347.2l10.96 -6.33M405.18 347.2l-10.96 -6.33M405.18 347.2l10.96 -6.33M427.11 347.2l-10.96 -6.33M427.11 347.2l10.96 -6.33M449.04 347.2l-10.96 -6.33M449.04 347.2l10.96 -6.33M470.97 347.2l-10.96 -6.33M470.97 347.2l10.96 -6.33M492.9 347.2l-10.96 -6.33M492.9 347.2l10.96 -6.33M240.71 366.19l-10.96 -6.33M240.71 366.19l10.96 -6.33M262.64 366.19l-10.96 -6.33M262.64 366.19l10.96 -6.33M284.57 366.19l-10.96 -6.33M284.57 366.19l10.96 -6.33M306.5 366.19l-10.96 -6.33M306.5 366.19l10.96 -6.33M328.43 366.19l-10.96 -6.33M328.43 366.19l10.96 -6.33M350.36 366.19l-10.96 -6.33M350.36 366.19l10.96 -6.33M372.29 366.19l-10.96 -6.33M372.29 366.19l10.96 -6.33M394.22 366.19l-10.96 -6.33M394.22 366.19l10.96 -6.33M416.15 366.19l-10.96 -6.33M416.15 366.19l10.96 -6.33M438.08 366.19l-10.96 -6.33M438.08 366.19l10.96 -6.33M460.01 366.19l-10.96 -6.33M460.01 366.19l10.96 -6.33M481.94 366.19l-10.96 -6.33M481.94 366.19l10.96 -6.33M503.87 366.19l-10.96 -6.33M503.87 366.19l10.96 -6.33M251.67 385.18l-10.96 -6.33M251.67 385.18l10.96 -6.33M273.6 385.18l-10.96 -6.33M273.6 385.18l10.96 -6.33M295.53 385.18l-10.96 -6.33M295.53 385.18l10.96 -6.33M317.46 385.18l-10.96 -6.33M317.46 385.18l10.96 -6.33M339.39 385.18l-10.96 -6.33M339.39 385.18l10.96 -6.33M361.32 385.18l-10.96 -6.33M361.32 385.18l10.96 -6.33M383.25 385.18l-10.96 -6.33M383.25 385.18l10.96 -6.33M405.18 385.18l-10.96 -6.33M405.18 385.18l10.96 -6.33M427.11 385.18l-10.96 -6.33M427.11 385.18l10.96 -6.33M449.04 385.18l-10.96 -6.33M449.04 385.18l10.96 -6.33M470.97 385.18l-10.96 -6.33M470.97 385.18l10.96 -6.33M492.9 385.18l-10.96 -6.33M492.9 385.18l10.96 -6.33M240.71 404.18l-10.96 -6.33M240.71 404.18l10.96 -6.33M262.64 404.18l-10.96 -6.33M262.64 404.18l10.96 -6.33M284.57 404.18l-10.96 -6.33M284.57 404.18l10.96 -6.33M306.5 404.18l-10.96 -6.33M306.5 404.18l10.96 -6.33M328.43 404.18l-10.96 -6.33M328.43 404.18l10.96 -6.33M350.36 404.18l-10.96 -6.33M350.36 404.18l10.96 -6.33M372.29 404.18l-10.96 -6.33M372.29 404.18l10.96 -6.33M394.22 404.18l-10.96 -6.33M394.22 404.18l10.96 -6.33M416.15 404.18l-10.96 -6.33M416.15 404.18l10.96 -6.33M438.08 404.18l-10.96 -6.33M438.08 404.18l10.96 -6.33M460.01 404.18l-10.96 -6.33M460.01 404.18l10.96 -6.33M481.94 404.18l-10.96 -6.33M481.94 404.18l10.96 -6.33M503.87 404.18l-10.96 -6.33M503.87 404.18l10.96 -6.33M251.67 423.17l-10.96 -6.33M251.67 423.17l10.96 -6.33M273.6 423.17l-10.96 -6.33M273.6 423.17l10.96 -6.33M295.53 423.17l-10.96 -6.33M295.53 423.17l10.96 -6.33M317.46 423.17l-10.96 -6.33M317.46 423.17l10.96 -6.33M339.39 423.17l-10.96 -6.33M339.39 423.17l10.96 -6.33M361.32 423.17l-10.96 -6.33M361.32 423.17l10.96 -6.33M383.25 423.17l-10.96 -6.33M383.25 423.17l10.96 -6.33M405.18 423.17l-10.96 -6.33M405.18 423.17l10.96 -6.33M427.11 423.17l-10.96 -6.33M427.11 423.17l10.96 -6.33M449.04 423.17l-10.96 -6.33M449.04 423.17l10.96 -6.33M470.97 423.17l-10.96 -6.33M470.97 423.17l10.96 -6.33M492.9 423.17l-10.96 -6.33M492.9 423.17l10.96 -6.33M240.71 442.16l-10.96 -6.33M240.71 442.16l10.96 -6.33M262.64 442.16l-10.96 -6.33M262.64 442.16l10.96 -6.33M284.57 442.16l-10.96 -6.33M284.57 442.16l10.96 -6.33M306.5 442.16l-10.96 -6.33M306.5 442.16l10.96 -6.33M328.43 442.16l-10.96 -6.33M328.43 442.16l10.96 -6.33M350.36 442.16l-10.96 -6.33M350.36 442.16l10.96 -6.33M372.29 442.16l-10.96 -6.33M372.29 442.16l10.96 -6.33M394.22 442.16l-10.96 -6.33M394.22 442.16l10.96 -6.33M416.15 442.16l-10.96 -6.33M416.15 442.16l10.96 -6.33M438.08 442.16l-10.96 -6.33M438.08 442.16l10.96 -6.33M460.01 442.16l-10.96 -6.33M460.01 442.16l10.96 -6.33M481.94 442.16l-10.96 -6.33M481.94 442.16l10.96 -6.33M503.87 442.16l-10.96 -6.33M503.87 442.16l10.96 -6.33M251.67 461.15l-10.96 -6.33M251.67 461.15l10.96 -6.33M273.6 461.15l-10.96 -6.33M273.6 461.15l10.96 -6.33M295.53 461.15l-10.96 -6.33M295.53 461.15l10.96 -6.33M317.46 461.15l-10.96 -6.33M317.46 461.15l10.96 -6.33M339.39 461.15l-10.96 -6.33M339.39 461.15l10.96 -6.33M361.32 461.15l-10.96 -6.33M361.32 461.15l10.96 -6.33M383.25 461.15l-10.96 -6.33M383.25 461.15l10.96 -6.33M405.18 461.15l-10.96 -6.33M405.18 461.15l10.96 -6.33M427.11 461.15l-10.96 -6.33M427.11 461.15l10.96 -6.33M449.04 461.15l-10.96 -6.33M449.04 461.15l10.96 -6.33M470.97 461.15l-10.96 -6.33M470.97 461.15l10.96 -6.33M492.9 461.15l-10.96 -6.33M492.9 461.15l10.96 -6.33M240.71 480.14l-10.96 -6.33M240.71 480.14l10.96 -6.33M262.64 480.14l-10.96 -6.33M262.64 480.14l10.96 -6.33M284.57 480.14l-10.96 -6.33M284.57 480.14l10.96 -6.33M306.5 480.14l-10.96 -6.33M306.5 480.14l10.96 -6.33M328.43 480.14l-10.96 -6.33M328.43 480.14l10.96 -6.33M350.36 480.14l-10.96 -6.33M350.36 480.14l10.96 -6.33M372.29 480.14l-10.96 -6.33M372.29 480.14l10.96 -6.33M394.22 480.14l-10.96 -6.33M394.22 480.14l10.96 -6.33M416.15 480.14l-10.96 -6.33M416.15 480.14l10.96 -6.33M438.08 480.14l-10.96 -6.33M438.08 480.14l10.96 -6.33M460.01 480.14l-10.96 -6.33M460.01 480.14l10.96 -6.33M481.94 480.14l-10.96 -6.33M481.94 480.14l10.96 -6.33M503.87 480.14l-10.96 -6.33M503.87 480.14l10.96 -6.33M251.67 499.14l-10.96 -6.33M251.67 499.14l10.96 -6.33M273.6 499.14l-10.96 -6.33M273.6 499.14l10.96 -6.33M295.53 499.14l-10.96 -6.33M295.53 499.14l10.96 -6.33M317.46 499.14l-10.96 -6.33M317.46 499.14l10.96 -6.33M339.39 499.14l-10.96 -6.33M339.39 499.14l10.96 -6.33M361.32 499.14l-10.96 -6.33M361.32 499.14l10.96 -6.33M383.25 499.14l-10.96 -6.33M383.25 499.14l10.96 -6.33M405.18 499.14l-10.96 -6.33M405.18 499.14l10.96 -6.33M427.11 499.14l-10.96 -6.33M427.11 499.14l10.96 -6.33M449.04 499.14l-10.96 -6.33M449.04 499.14l10.96 -6.33M470.97 499.14l-10.96 -6.33M470.97 499.14l10.96 -6.33M492.9 499.14l-10.96 -6.33M492.9 499.14l10.96 -6.33M240.71 518.13l-10.96 -6.33M240.71 518.13l10.96 -6.33M262.64 518.13l-10.96 -6.33M262.64 518.13l10.96 -6.33M284.57 518.13l-10.96 -6.33M284.57 518.13l10.96 -6.33M306.5 518.13l-10.96 -6.33M306.5 518.13l10.96 -6.33M328.43 518.13l-10.96 -6.33M328.43 518.13l10.96 -6.33M350.36 518.13l-10.96 -6.33M350.36 518.13l10.96 -6.33M372.29 518.13l-10.96 -6.33M372.29 518.13l10.96 -6.33M394.22 518.13l-10.96 -6.33M394.22 518.13l10.96 -6.33M416.15 518.13l-10.96 -6.33M416.15 518.13l10.96 -6.33M438.08 518.13l-10.96 -6.33M438.08 518.13l10.96 -6.33M460.01 518.13l-10.96 -6.33M460.01 518.13l10.96 -6.33M481.94 518.13l-10.96 -6.33M481.94 518.13l10.96 -6.33M503.87 518.13l-10.96 -6.33M503.87 518.13l10.96 -6.33M251.67 537.12l-10.96 -6.33M251.67 537.12l10.96 -6.33M273.6 537.12l-10.96 -6.33M273.6 537.12l10.96 -6.33M295.53 537.12l-10.96 -6.33M295.53 537.12l10.96 -6.33M317.46 537.12l-10.96 -6.33M317.46 537.12l10.96 -6.33M339.39 537.12l-10.96 -6.33M339.39 537.12l10.96 -6.33M361.32 537.12l-10.96 -6.33M361.32 537.12l10.96 -6.33M383.25 537.12l-10.96 -6.33M383.25 537.12l10.96 -6.33M405.18 537.12l-10.96 -6.33M405.18 537.12l10.96 -6.33M427.11 537.12l-10.96 -6.33M427.11 537.12l10.96 -6.33M449.04 537.12l-10.96 -6.33M449.04 537.12l10.96 -6.33M470.97 537.12l-10.96 -6.33M470.97 537.12l10.96 -6.33M492.9 537.12l-10.96 -6.33M492.9 537.12l10.96 -6.33" fill="none" stroke="#000" stroke-width="0.36"/>
<path d="M240.71 328.21v12.66M262.64 328.21v12.66M284.57 328.21v12.66M306.5 328.21v12.66M328.43 328.21v12.66M350.36 328.21v12.66M372.29 328.21v12.66M394.22 328.21v12.66M416.15 328.21v12.66M438.08 328.21v12.66M460.01 328.21v12.66M481.94 328.21v12.66M503.87 328.21v12.66M251.67 347.2v12.66M273.6 347.2v12.66M295.53 347.2v12.66M317.46 347.2v12.66M339.39 347.2v12.66M361.32 347.2v12.66M383.25 347.2v12.66M405.18 347.2v12.66M427.11 347.2v12.66M449.04 347.2v12.66M470.97 347.2v12.66M492.9 347.2v12.66M240.71 366.19v12.66M262.64 366.19v12.66M284.57 366.19v12.66M306.5 366.19v12.66M328.43 366.19v12.66M350.36 366.19v12.66M372.29 366.19v12.66M394.22 366.19v12.66M416.15 366.19v12.66M438.08 366.19v12.66M460.01 366.19v12.66M481.94 366.19v12.66M503.87 366.19v12.66M251.67 385.18v12.66M273.6 385.18v12.66M295.53 385.18v12.66M317.46 385.18v12.66M339.39 385.18v12.66M361.32 385.18v12.66M383.25 385.18v12.66M405.18 385.18v12.66M427.11 385.18v12.66M449.04 385.18v12.66M470.97 385.18v12.66M492.9 385.18v12.66M240.71 404.18v12.66M262.64 404.18v12.66M284.57 404.18v12.66M306.5 404.18v12.66M328.43 404.18v12.66M350.36 404.18v12.66M372.29 404.18v12.66M394.22 404.18v12.66M416.15 404.18v12.66M438.08 404.18v12.66M460.01 404.18v12.66M481.94 404.18v12.66M503.87 404.18v12.66M251.67 423.17v12.66M273.6 423.17v12.66M295.53 423.17v12.66M317.46 423.17v12.66M339.39 423.17v12.66M361.32 423.17v12.66M383.25 423.17v12.66M405.18 423.17v12.66M427.11 423.17v12.66M449.04 423.17v12.66M470.97 423.17v12.66M492.9 423.17v12.66M240.71 442.16v12.66M262.64 442.16v12.66M284.57 442.16v12.66M306.5 442.16v12.66M328.43 442.16v12.66M350.36 442.16v12.66M372.29 442.16v12.66M394.22 442.16v12.66M416.15 442.16v12.66M438.08 442.16v12.66M460.01 442.16v12.66M481.94 442.16v12.66M503.87 442.16v12.66M251.67 461.15v12.66M273.6 461.15v12.66M295.53 461.15v12.66M317.46 461.15v12.66M339.39 461.15v12.66M361.32 461.15v12.66M383.25 461.15v12.66M405.18 461.15v12.66M427.11 461.15v12.66M449.04 461.15v12.66M470.97 461.15v12.66M492.9 461.15v12.66M240.71 480.14v12.66M262.64 480.14v12.66M284.57 480.14v12.66M306.5 480.14v12.66M328.43 480.14v12.66M350.36 480.14v12.66M372.29 480.14v12.66M394.22 480.14v12.66M416.15 480.14v12.66M438.08 480.14v12.66M460.01 480.14v12.66M481.94 480.14v12.66M503.87 480.14v12.66M251.67 499.14v12.66M273.6 499.14v12.66M295.53 499.14v12.66M317.46 499.14v12.66M339.39 499.14v12.66M361.32 499.14v12.66M383.25 499.14v12.66M405.18 499.14v12.66M427.11 499.14v12.66M449.04 499.14v12.66M470.97 499.14v12.66M492.9 499.14v12.66M240.71 518.13v12.66M262.64 518.13v12.66M284.57 518.13v12.66M306.5 518.13v12.66M328.43 518.13v12.66M350.36 518.13v12.66M372.29 518.13v12.66M394.22 518.13v12.66M416.15 518.13v12.66M438.08 518.13v12.66M460.01 518.13v12.66M481.94 518.13v12.66M503.87 518.13v12.66M251.67 537.12v12.66M273.6 537.12v12.66M295.53 537.12v12.66M317.46 537.12v12.66M339.39 537.12v12.66M361.32 537.12v12.66M383.25 537.12v12.66M405.18 537.12v12.66M427.11 537.12v12.66M449.04 537.12v12.66M470.97 537.12v12.66M492.9 537.12v12.66" fill="none" stroke="#000" stroke-opacity="0.4" stroke-width="1" shape-rendering="crispEdges"/>
</g>
<clipPath id="tc1"><rect x="157.4" y="324.4" width="83" height="60"/></clipPath>
<rect x="157.4" y="324.4" width="83" height="60" fill="#7acefc"/>
<path d="M157.4 347.2H206.6L185.12 384.4H157.4Z" fill="#f3bdd1"/>
<g clip-path="url(#tc1)" fill="#fff">
<circle cx="164.4" cy="329.9" r="2.4"/>
<circle cx="176.28" cy="329.9" r="2.4"/>
<circle cx="188.16" cy="329.9" r="2.4"/>
<circle cx="200.04" cy="329.9" r="2.4"/>
<circle cx="211.92" cy="329.9" r="2.4"/>
<circle cx="223.8" cy="329.9" r="2.4"/>
<circle cx="235.68" cy="329.9" r="2.4"/>
<circle cx="158.46" cy="340.19" r="2.4"/>
<circle cx="170.34" cy="340.19" r="2.4"/>
<circle cx="182.22" cy="340.19" r="2.4"/>
<circle cx="194.1" cy="340.19" r="2.4"/>
<circle cx="205.98" cy="340.19" r="2.4"/>
<circle cx="217.86" cy="340.19" r="2.4"/>
<circle cx="229.74" cy="340.19" r="2.4"/>
<circle cx="241.62" cy="340.19" r="2.4"/>
<circle cx="211.92" cy="350.48" r="2.4"/>
<circle cx="223.8" cy="350.48" r="2.4"/>
<circle cx="235.68" cy="350.48" r="2.4"/>
<circle cx="205.98" cy="360.77" r="2.4"/>
<circle cx="217.86" cy="360.77" r="2.4"/>
<circle cx="229.74" cy="360.77" r="2.4"/>
<circle cx="241.62" cy="360.77" r="2.4"/>
<circle cx="200.04" cy="371.05" r="2.4"/>
<circle cx="211.92" cy="371.05" r="2.4"/>
<circle cx="223.8" cy="371.05" r="2.4"/>
<circle cx="235.68" cy="371.05" r="2.4"/>
<circle cx="194.1" cy="381.34" r="2.4"/>
<circle cx="205.98" cy="381.34" r="2.4"/>
<circle cx="217.86" cy="381.34" r="2.4"/>
<circle cx="229.74" cy="381.34" r="2.4"/>
<circle cx="241.62" cy="381.34" r="2.4"/>
<circle cx="158.45" cy="354" r="2.4"/>
<circle cx="170.33" cy="354" r="2.4"/>
<circle cx="182.21" cy="354" r="2.4"/>
<circle cx="194.09" cy="354" r="2.4"/>
<circle cx="164.39" cy="364.29" r="2.4"/>
<circle cx="176.27" cy="364.29" r="2.4"/>
<circle cx="188.15" cy="364.29" r="2.4"/>
<circle cx="158.45" cy="374.58" r="2.4"/>
<circle cx="170.33" cy="374.58" r="2.4"/>
<circle cx="182.21" cy="374.58" r="2.4"/>
<circle cx="164.39" cy="384.87" r="2.4"/>
<circle cx="176.27" cy="384.87" r="2.4"/>
</g>
<rect x="157.4" y="324.4" width="83" height="60" fill="none" stroke="#999" stroke-width="0.7"/>
<clipPath id="tc2"><rect x="157.4" y="419.3" width="83" height="60"/></clipPath>
<rect x="157.4" y="419.3" width="83" height="60" fill="#7acefc"/>
<path d="M157.4 442H205.8L184.26 479.3H157.4Z" fill="#f3bdd1"/>
<g clip-path="url(#tc2)" fill="#fff">
<circle cx="155.57" cy="423" r="2.4"/>
<circle cx="167.45" cy="423" r="2.4"/>
<circle cx="179.33" cy="423" r="2.4"/>
<circle cx="191.21" cy="423" r="2.4"/>
<circle cx="203.09" cy="423" r="2.4"/>
<circle cx="214.97" cy="423" r="2.4"/>
<circle cx="226.85" cy="423" r="2.4"/>
<circle cx="238.73" cy="423" r="2.4"/>
<circle cx="161.51" cy="433.29" r="2.4"/>
<circle cx="173.39" cy="433.29" r="2.4"/>
<circle cx="185.27" cy="433.29" r="2.4"/>
<circle cx="197.15" cy="433.29" r="2.4"/>
<circle cx="209.03" cy="433.29" r="2.4"/>
<circle cx="220.91" cy="433.29" r="2.4"/>
<circle cx="232.79" cy="433.29" r="2.4"/>
<circle cx="214.97" cy="443.58" r="2.4"/>
<circle cx="226.85" cy="443.58" r="2.4"/>
<circle cx="238.73" cy="443.58" r="2.4"/>
<circle cx="209.03" cy="453.87" r="2.4"/>
<circle cx="220.91" cy="453.87" r="2.4"/>
<circle cx="232.79" cy="453.87" r="2.4"/>
<circle cx="203.09" cy="464.15" r="2.4"/>
<circle cx="214.97" cy="464.15" r="2.4"/>
<circle cx="226.85" cy="464.15" r="2.4"/>
<circle cx="238.73" cy="464.15" r="2.4"/>
<circle cx="197.15" cy="474.44" r="2.4"/>
<circle cx="209.03" cy="474.44" r="2.4"/>
<circle cx="220.91" cy="474.44" r="2.4"/>
<circle cx="232.79" cy="474.44" r="2.4"/>
<circle cx="155.57" cy="450.8" r="2.4"/>
<circle cx="167.45" cy="450.8" r="2.4"/>
<circle cx="179.33" cy="450.8" r="2.4"/>
<circle cx="191.21" cy="450.8" r="2.4"/>
<circle cx="161.51" cy="461.09" r="2.4"/>
<circle cx="173.39" cy="461.09" r="2.4"/>
<circle cx="185.27" cy="461.09" r="2.4"/>
<circle cx="155.57" cy="471.38" r="2.4"/>
<circle cx="167.45" cy="471.38" r="2.4"/>
<circle cx="179.33" cy="471.38" r="2.4"/>
<circle cx="161.51" cy="481.67" r="2.4"/>
<circle cx="173.39" cy="481.67" r="2.4"/>
</g>
<rect x="157.4" y="419.3" width="83" height="60" fill="none" stroke="#999" stroke-width="0.7"/>
<clipPath id="tc3"><rect x="157.4" y="514.3" width="83" height="60"/></clipPath>
<rect x="157.4" y="514.3" width="83" height="60" fill="#7acefc"/>
<path d="M157.4 540.2H205.8L186.11 574.3H157.4Z" fill="#f3bdd1"/>
<g clip-path="url(#tc3)" fill="#fff">
<circle cx="164.6" cy="516.5" r="1.75"/>
<circle cx="173.69" cy="516.5" r="1.75"/>
<circle cx="182.78" cy="516.5" r="1.75"/>
<circle cx="191.87" cy="516.5" r="1.75"/>
<circle cx="200.96" cy="516.5" r="1.75"/>
<circle cx="210.05" cy="516.5" r="1.75"/>
<circle cx="219.14" cy="516.5" r="1.75"/>
<circle cx="228.23" cy="516.5" r="1.75"/>
<circle cx="237.32" cy="516.5" r="1.75"/>
<circle cx="160.05" cy="524.37" r="1.75"/>
<circle cx="169.14" cy="524.37" r="1.75"/>
<circle cx="178.23" cy="524.37" r="1.75"/>
<circle cx="187.32" cy="524.37" r="1.75"/>
<circle cx="196.41" cy="524.37" r="1.75"/>
<circle cx="205.5" cy="524.37" r="1.75"/>
<circle cx="214.59" cy="524.37" r="1.75"/>
<circle cx="223.68" cy="524.37" r="1.75"/>
<circle cx="232.77" cy="524.37" r="1.75"/>
<circle cx="241.86" cy="524.37" r="1.75"/>
<circle cx="164.6" cy="532.24" r="1.75"/>
<circle cx="173.69" cy="532.24" r="1.75"/>
<circle cx="182.78" cy="532.24" r="1.75"/>
<circle cx="191.87" cy="532.24" r="1.75"/>
<circle cx="200.96" cy="532.24" r="1.75"/>
<circle cx="210.05" cy="532.24" r="1.75"/>
<circle cx="219.14" cy="532.24" r="1.75"/>
<circle cx="228.23" cy="532.24" r="1.75"/>
<circle cx="237.32" cy="532.24" r="1.75"/>
<circle cx="214.59" cy="540.12" r="1.75"/>
<circle cx="223.68" cy="540.12" r="1.75"/>
<circle cx="232.77" cy="540.12" r="1.75"/>
<circle cx="241.86" cy="540.12" r="1.75"/>
<circle cx="210.05" cy="547.99" r="1.75"/>
<circle cx="219.14" cy="547.99" r="1.75"/>
<circle cx="228.23" cy="547.99" r="1.75"/>
<circle cx="237.32" cy="547.99" r="1.75"/>
<circle cx="205.5" cy="555.86" r="1.75"/>
<circle cx="214.59" cy="555.86" r="1.75"/>
<circle cx="223.68" cy="555.86" r="1.75"/>
<circle cx="232.77" cy="555.86" r="1.75"/>
<circle cx="241.86" cy="555.86" r="1.75"/>
<circle cx="200.96" cy="563.73" r="1.75"/>
<circle cx="210.05" cy="563.73" r="1.75"/>
<circle cx="219.14" cy="563.73" r="1.75"/>
<circle cx="228.23" cy="563.73" r="1.75"/>
<circle cx="237.32" cy="563.73" r="1.75"/>
<circle cx="196.41" cy="571.61" r="1.75"/>
<circle cx="205.5" cy="571.61" r="1.75"/>
<circle cx="214.59" cy="571.61" r="1.75"/>
<circle cx="223.68" cy="571.61" r="1.75"/>
<circle cx="232.77" cy="571.61" r="1.75"/>
<circle cx="241.86" cy="571.61" r="1.75"/>
<circle cx="164.6" cy="548" r="1.75"/>
<circle cx="173.69" cy="548" r="1.75"/>
<circle cx="182.78" cy="548" r="1.75"/>
<circle cx="191.87" cy="548" r="1.75"/>
<circle cx="160.05" cy="555.87" r="1.75"/>
<circle cx="169.14" cy="555.87" r="1.75"/>
<circle cx="178.23" cy="555.87" r="1.75"/>
<circle cx="187.32" cy="555.87" r="1.75"/>
<circle cx="164.6" cy="563.74" r="1.75"/>
<circle cx="173.69" cy="563.74" r="1.75"/>
<circle cx="182.78" cy="563.74" r="1.75"/>
<circle cx="160.05" cy="571.62" r="1.75"/>
<circle cx="169.14" cy="571.62" r="1.75"/>
<circle cx="178.23" cy="571.62" r="1.75"/>
</g>
<rect x="157.4" y="514.3" width="83" height="60" fill="none" stroke="#999" stroke-width="0.7"/>
<clipPath id="tc4"><rect x="498.3" y="334.4" width="83.2" height="60.2"/></clipPath>
<rect x="498.3" y="334.4" width="83.2" height="60.2" fill="#7acefc"/>
<path d="M498.3 357.2H547.4L525.81 394.6H498.3Z" fill="#f3bdd1"/>
<g clip-path="url(#tc4)" fill="#fff">
<circle cx="500.25" cy="342.5" r="2.9"/>
<circle cx="514.75" cy="342.5" r="2.9"/>
<circle cx="529.25" cy="342.5" r="2.9"/>
<circle cx="543.75" cy="342.5" r="2.9"/>
<circle cx="558.25" cy="342.5" r="2.9"/>
<circle cx="572.75" cy="342.5" r="2.9"/>
<circle cx="507.5" cy="355.06" r="2.9"/>
<circle cx="522" cy="355.06" r="2.9"/>
<circle cx="536.5" cy="355.06" r="2.9"/>
<circle cx="551" cy="355.06" r="2.9"/>
<circle cx="565.5" cy="355.06" r="2.9"/>
<circle cx="580" cy="355.06" r="2.9"/>
<circle cx="543.75" cy="367.61" r="2.9"/>
<circle cx="558.25" cy="367.61" r="2.9"/>
<circle cx="572.75" cy="367.61" r="2.9"/>
<circle cx="536.5" cy="380.17" r="2.9"/>
<circle cx="551" cy="380.17" r="2.9"/>
<circle cx="565.5" cy="380.17" r="2.9"/>
<circle cx="580" cy="380.17" r="2.9"/>
<circle cx="529.25" cy="392.73" r="2.9"/>
<circle cx="543.75" cy="392.73" r="2.9"/>
<circle cx="558.25" cy="392.73" r="2.9"/>
<circle cx="572.75" cy="392.73" r="2.9"/>
<circle cx="500.25" cy="358.9" r="2.9"/>
<circle cx="514.75" cy="358.9" r="2.9"/>
<circle cx="529.25" cy="358.9" r="2.9"/>
<circle cx="543.75" cy="358.9" r="2.9"/>
<circle cx="507.5" cy="371.46" r="2.9"/>
<circle cx="522" cy="371.46" r="2.9"/>
<circle cx="536.5" cy="371.46" r="2.9"/>
<circle cx="500.25" cy="384.01" r="2.9"/>
<circle cx="514.75" cy="384.01" r="2.9"/>
<circle cx="529.25" cy="384.01" r="2.9"/>
<circle cx="507.5" cy="396.57" r="2.9"/>
<circle cx="522" cy="396.57" r="2.9"/>
</g>
<rect x="498.3" y="334.4" width="83.2" height="60.2" fill="none" stroke="#999" stroke-width="0.7"/>
<clipPath id="tc5"><rect x="498.3" y="486.1" width="83.2" height="60.2"/></clipPath>
<rect x="498.3" y="486.1" width="83.2" height="60.2" fill="#7acefc"/>
<path d="M498.3 508.9H547.4L525.81 546.3H498.3Z" fill="#f3bdd1"/>
<g clip-path="url(#tc5)" fill="#fff">
<circle cx="503.8" cy="491.9" r="2.9"/>
<circle cx="518.3" cy="491.9" r="2.9"/>
<circle cx="532.8" cy="491.9" r="2.9"/>
<circle cx="547.3" cy="491.9" r="2.9"/>
<circle cx="561.8" cy="491.9" r="2.9"/>
<circle cx="576.3" cy="491.9" r="2.9"/>
<circle cx="496.55" cy="504.46" r="2.9"/>
<circle cx="511.05" cy="504.46" r="2.9"/>
<circle cx="525.55" cy="504.46" r="2.9"/>
<circle cx="540.05" cy="504.46" r="2.9"/>
<circle cx="554.55" cy="504.46" r="2.9"/>
<circle cx="569.05" cy="504.46" r="2.9"/>
<circle cx="583.55" cy="504.46" r="2.9"/>
<circle cx="547.3" cy="517.01" r="2.9"/>
<circle cx="561.8" cy="517.01" r="2.9"/>
<circle cx="576.3" cy="517.01" r="2.9"/>
<circle cx="540.05" cy="529.57" r="2.9"/>
<circle cx="554.55" cy="529.57" r="2.9"/>
<circle cx="569.05" cy="529.57" r="2.9"/>
<circle cx="583.55" cy="529.57" r="2.9"/>
<circle cx="532.8" cy="542.13" r="2.9"/>
<circle cx="547.3" cy="542.13" r="2.9"/>
<circle cx="561.8" cy="542.13" r="2.9"/>
<circle cx="576.3" cy="542.13" r="2.9"/>
<circle cx="496.55" cy="512.9" r="2.9"/>
<circle cx="511.05" cy="512.9" r="2.9"/>
<circle cx="525.55" cy="512.9" r="2.9"/>
<circle cx="540.05" cy="512.9" r="2.9"/>
<circle cx="503.8" cy="525.46" r="2.9"/>
<circle cx="518.3" cy="525.46" r="2.9"/>
<circle cx="532.8" cy="525.46" r="2.9"/>
<circle cx="496.55" cy="538.01" r="2.9"/>
<circle cx="511.05" cy="538.01" r="2.9"/>
<circle cx="525.55" cy="538.01" r="2.9"/>
</g>
<rect x="498.3" y="486.1" width="83.2" height="60.2" fill="none" stroke="#999" stroke-width="0.7"/>
<path d="M284.3 480.3L460.9 377.8" stroke="#f00" stroke-width="2" stroke-dasharray="6.8 5.54" fill="none"/>
<path d="M240.4 354.3L372.6 429.1M240.4 449.8L361.2 435.7M243.3 539.1L350.2 441.8M498.3 516L394.5 416.6M498.3 374.1L405.4 409.7" stroke="#000" stroke-width="1.45" fill="none"/>
<circle cx="372.6" cy="429.1" r="1.7"/>
<circle cx="361.2" cy="435.7" r="1.7"/>
<circle cx="350.2" cy="441.8" r="1.7"/>
<circle cx="394.5" cy="416.6" r="1.7"/>
<circle cx="405.4" cy="409.7" r="1.7"/>
<g transform="translate(365.9 399.6) rotate(-29.6)">
<path d="M-56.6 0L-37.6 -18L-37.6 -10.7L37.6 -10.7L37.6 -18L56.6 0L37.6 18L37.6 10.7L-37.6 10.7L-37.6 18Z" fill="#f00"/>
<text class="w" y="4.4" font-size="11.8" fill="#fff"><tspan x="-50.3">shift by</tspan></text>
<text x="-8.7 0.2 3.9 12.2 16.3 22.9 30.3 35.3 44.3" class="w" y="4.6" font-size="13.6" fill="#fff" font-family='"Liberation Serif", "DejaVu Serif", serif'>D = <tspan font-style="italic">Sa</tspan>/√3</text>
<path d="M42.3 -6.3H50.5" stroke="#fff" stroke-width="0.8"/>
</g>
<text x="109.6" y="358.6" font-size="15.3">Zigzag</text>
<text x="114.8" y="377.7" font-size="14.7">S=1</text>
<text x="95.6" y="449.9" font-size="15.3">Bearded</text>
<text x="113.9" y="470.4" font-size="15.3">S=2</text>
<text x="78.2" y="540.8" font-size="15.3">Line-defect</text>
<text x="113.9" y="561.6" font-size="15.3">S=3</text>
<text x="586" y="366.3" font-size="15.3">Bearded</text>
<text x="595.5" y="386.3" font-size="15.3">S=-2</text>
<text x="583.8" y="513.7" font-size="15.3">Zigzag</text>
<text x="592.4" y="535.7" font-size="14.7">S=-1</text>
</svg>
</body>
</html>
